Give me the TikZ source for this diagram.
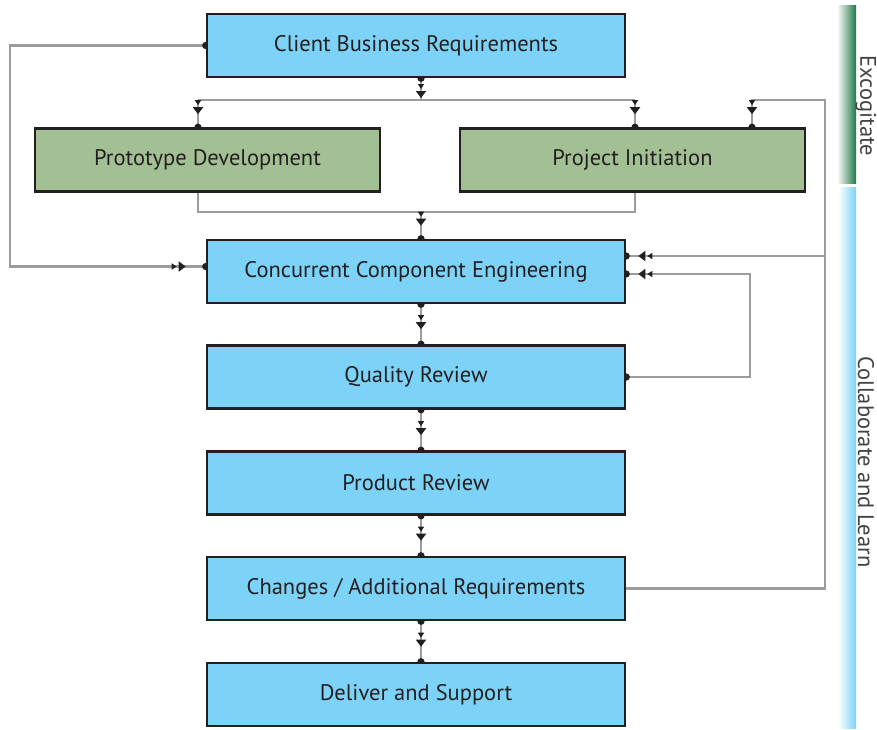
\documentclass[tikz,border=0pt]{standalone}
\usepackage{fontspec}
\setmainfont{PT Sans}
\usetikzlibrary{arrows.meta,decorations.markings,backgrounds}
\definecolor{boxblue}{HTML}{7DD3F7}
\definecolor{boxgreen}{HTML}{A3BF94}
\definecolor{linegray}{HTML}{9C9C9C}
\definecolor{inkdark}{HTML}{231F20}
\definecolor{leafgreen}{HTML}{1E7A46}
\begin{document}
\begin{tikzpicture}[x=1pt,y=-1pt,
  stepbox/.style={draw=inkdark, line width=2.6pt, minimum height=63pt, inner sep=0pt,
    text=inkdark, font=\fontsize{22.5}{26}\selectfont},
  widebox/.style={stepbox, fill=boxblue, minimum width=418pt},
  halfbox/.style={stepbox, fill=boxgreen, minimum width=345pt},
  flow/.style={draw=linegray, line width=2.4pt, postaction={decorate},
    decoration={markings,
      mark=at position -#1 with {\arrow{Triangle[length=7pt,width=10pt,color=inkdark]}},
      mark=at position -#1-9pt with {\arrow{Triangle[length=5pt,width=6pt,color=inkdark]}}}},
  flow/.default=13pt,
  rail/.style={draw=linegray, line width=2.4pt},
  dotstart/.style={{Circle[length=7pt,color=inkdark]}-, shorten <=-3.5pt},
  dotend/.style={-{Circle[length=7pt,color=inkdark]}, shorten >=-3.5pt},
  dotboth/.style={{Circle[length=7pt,color=inkdark]}-{Circle[length=7pt,color=inkdark]},
    shorten <=-3.5pt, shorten >=-3.5pt},
  sidelabel/.style={rotate=-90, text=inkdark!85, font=\fontsize{22.5}{26}\selectfont}
]
\useasboundingbox (0,0) rectangle (877,729);

% boxes
\node[widebox] (client) at (416,45.5) {Client Business Requirements};
\node[halfbox] (proto) at (207.5,160) {Prototype Development};
\node[halfbox] (init) at (632.5,160) {Project Initiation};
\node[widebox] (cce) at (416,271.5) {Concurrent Component Engineering};
\node[widebox] (qr) at (416,377) {Quality Review};
\node[widebox] (pr) at (416,483) {Product Review};
\node[widebox] (car) at (416,588.5) {Changes / Additional Requirements};
\node[widebox] (das) at (416,694.5) {Deliver and Support};

% side bars
\shade[left color=green!4!gray!8, right color=leafgreen] (838,5) rectangle (856,183);
\shade[left color=white, right color=boxblue] (838,187) rectangle (856,728);
\node[sidelabel] (excogitate) at (866,106) {Excogitate};
\node[sidelabel] (collab) at (866,462) {Collaborate and Learn};

% joints
\coordinate (topjoin) at (421,100);
\coordinate (protojoin) at (198,100);
\coordinate (initjoin) at (635,100);
\coordinate (midjoin) at (421,212);
\coordinate (leftrail) at (10,0);
\coordinate (rightrail) at (825,0);
\coordinate (initjog) at (752,0);
\coordinate (qrloop) at (750,0);
\coordinate (ccein) at ([yshift=5pt]cce.west);
\coordinate (cceup) at ([yshift=15.5pt]cce.east);
\coordinate (ccelow) at ([yshift=-2.5pt]cce.east);

\begin{pgfonlayer}{background}
\draw[flow=2pt, dotstart] (client.south -| topjoin) -- (topjoin);
\draw[rail] (protojoin) -- (initjoin);
\draw[flow, dotend] (protojoin) -- (proto.north -| protojoin);
\draw[flow, dotend] (initjoin) -- (init.north -| initjoin);

\draw[rail] (proto.south -| protojoin) |- (midjoin) -| (init.south -| initjoin);
\draw[flow, dotend] (midjoin) -- (cce.north -| midjoin);

\draw[flow=20pt, dotboth] (client.west) -| (leftrail |- ccein) -- (ccein);

\draw[flow, dotend] (car.east) -| (rightrail |- topjoin) -| (init.north -| initjog);
\draw[flow=12pt, dotend] (rightrail |- cceup) -- (cceup);
\draw[flow=12pt, dotboth] (qr.east) -| (qrloop |- ccelow) -- (ccelow);

\foreach \a/\b in {cce/qr, qr/pr, pr/car, car/das}
  \draw[flow=15pt, dotboth] (\a.south -| midjoin) -- (\b.north -| midjoin);
\end{pgfonlayer}
\end{tikzpicture}
\end{document}
